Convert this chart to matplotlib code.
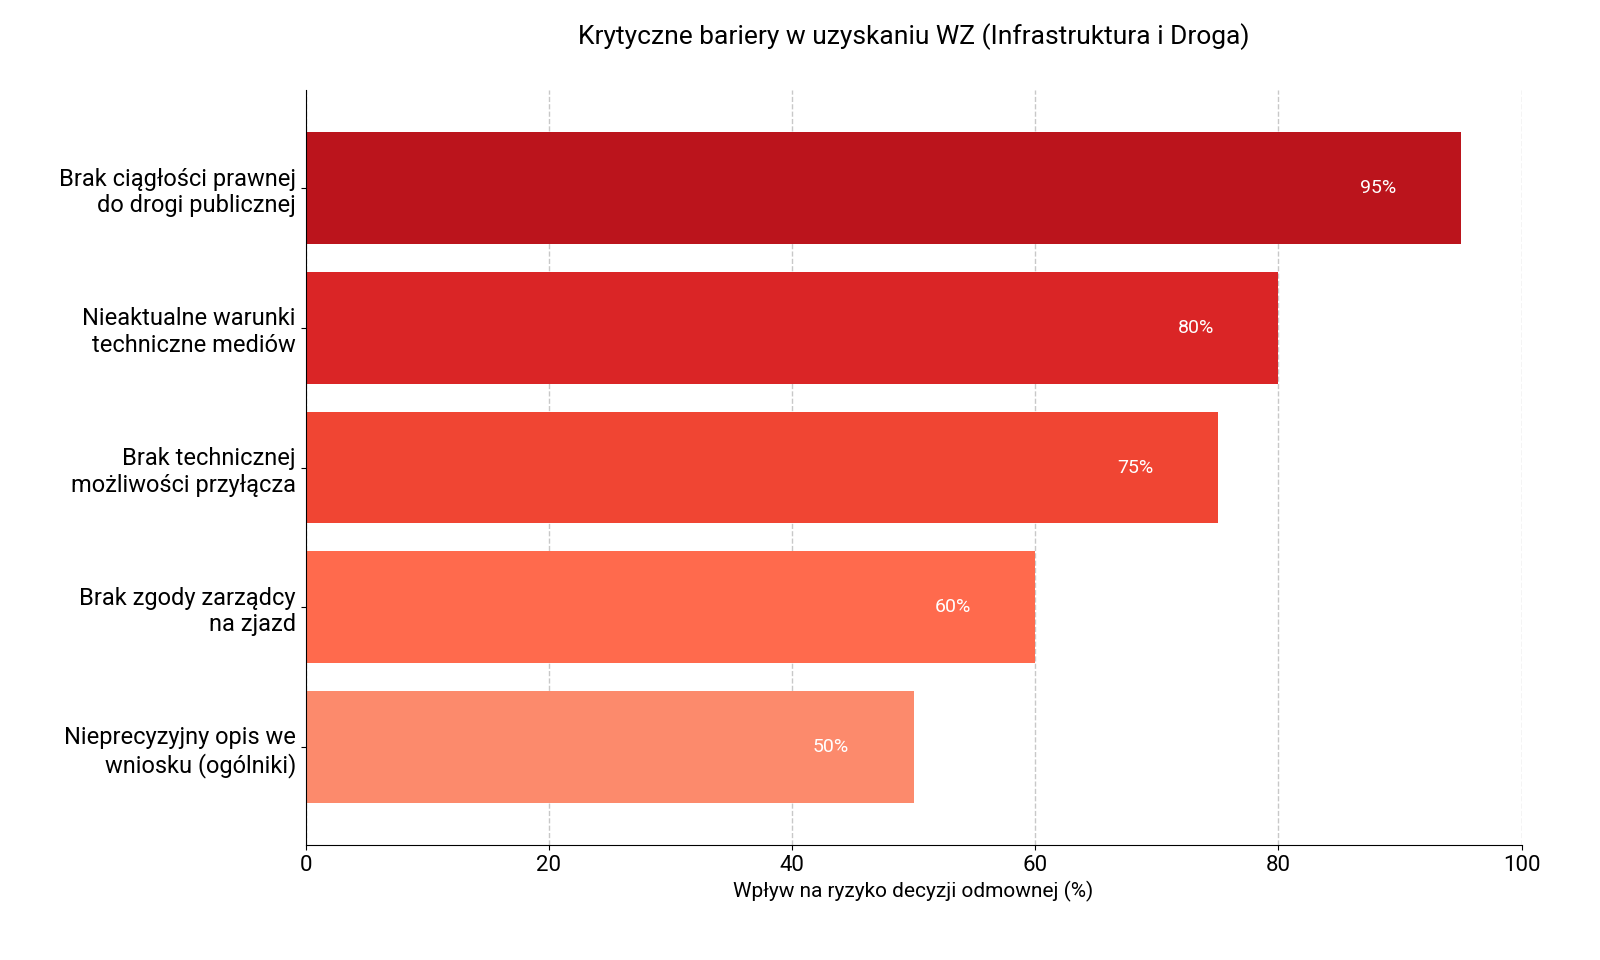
import matplotlib
matplotlib.use("Agg")
import matplotlib.pyplot as plt

plt.rcParams['font.family'] = ['Roboto', 'DejaVu Sans']

categories = [
    "Brak ciągłości prawnej\ndo drogi publicznej",
    "Nieaktualne warunki\ntechniczne mediów",
    "Brak technicznej\nmożliwości przyłącza",
    "Brak zgody zarządcy\nna zjazd",
    "Nieprecyzyjny opis we\nwniosku (ogólniki)",
]
values = [95, 80, 75, 60, 50]
colors = ["#BB141C", "#DA2526", "#F04533", "#FF6A4D", "#FC8A6C"]

fig = plt.figure(figsize=(16, 9.6), dpi=100)
ax = fig.add_axes([0.191, 0.12, 0.76, 0.786])

y = list(range(len(categories)))
ax.barh(y, values, height=0.8, color=colors, zorder=2)
for yi, v in zip(y, values):
    ax.text(v - 6.8, yi, f"{v}%", ha="center", va="center", color="white", fontsize=14, zorder=3)

ax.set_yticks(y)
ax.set_yticklabels(categories, fontsize=17)
ax.invert_yaxis()
ax.set_ylim(4.7, -0.7)
ax.set_xlim(0, 100)
ax.set_xticks([0, 20, 40, 60, 80, 100])
ax.tick_params(axis="x", labelsize=16)
ax.set_xlabel("Wpływ na ryzyko decyzji odmownej (%)", fontsize=15)
ax.xaxis.grid(True, linestyle="--", color="#c8c8c8", linewidth=1, zorder=0)
ax.set_axisbelow(True)
for s in ["top", "right"]:
    ax.spines[s].set_visible(False)

fig.text(0.571, 0.962, "Krytyczne bariery w uzyskaniu WZ (Infrastruktura i Droga)",
         ha="center", va="center", fontsize=19)

fig.savefig("out.png", dpi=100)
